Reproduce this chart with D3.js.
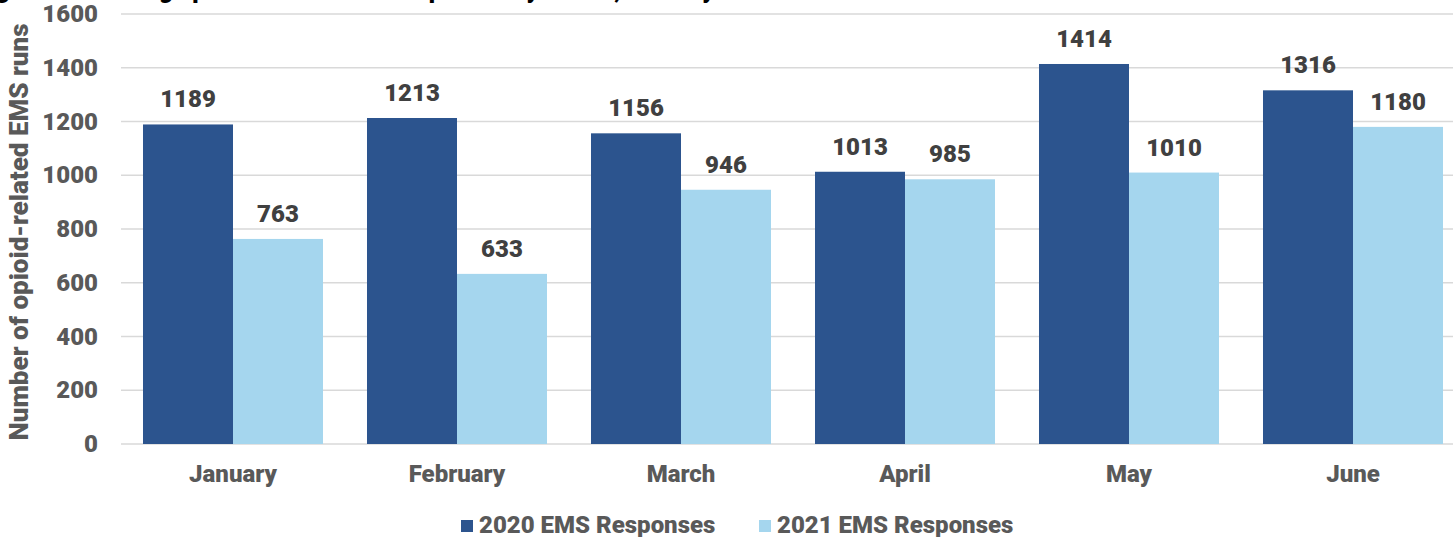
<!DOCTYPE html>
<html><head><meta charset="utf-8">
<script src="https://cdn.jsdelivr.net/npm/d3@7"></script>
<style>body{margin:0;background:#fff;overflow:hidden}svg{display:block}</style>
</head><body>
<svg id="c" width="1453" height="537"></svg>
<script>
const months = ["January","February","March","April","May","June"];
const seriesNames = ["2020 EMS Responses","2021 EMS Responses"];
const values2020 = [1189,1213,1156,1013,1414,1316];
const values2021 = [763,633,946,985,1010,1180];
const yTicks = [0,200,400,600,800,1000,1200,1400,1600];
const colors = ["#2c548e","#a5d6ee"];
const titleText = "Figure 3. Tracking opioid-related EMS responses by month, January–June 2020 and 2021";

const svg = d3.select("#c");
const font = "Roboto, 'Liberation Sans', sans-serif";
const W = 900;
const x = d3.scaleBand().domain(months).range([121,1465]).paddingInner(0.1964).paddingOuter(0.0982);
const xs = d3.scaleBand().domain(seriesNames).range([0,x.bandwidth()]);
const y = d3.scaleLinear().domain([0,1600]).range([444,14]);

// title (cut off at top)
svg.append("text").attr("x",-24).attr("y",-2).attr("font-family",font).attr("font-weight",W)
  .attr("font-size",24).attr("fill","#000").text(titleText);

// grid
svg.append("g").selectAll("line").data(yTicks).join("line")
  .attr("x1",121).attr("x2",1465).attr("y1",d=>y(d)).attr("y2",d=>y(d))
  .attr("stroke","#d9d9d9").attr("stroke-width",1.5);

// y axis labels
const yAxis = d3.axisLeft(y).tickValues(yTicks).tickFormat(d3.format("d")).tickSize(0).tickPadding(0);
const ga = svg.append("g").attr("transform","translate(98,0)").call(yAxis);
ga.select(".domain").remove();
ga.selectAll("text").attr("font-family",font).attr("font-weight",W).attr("font-size",24).attr("fill","#595959");

// x axis labels
const xAxis = d3.axisBottom(x).tickSize(0).tickPadding(0);
const gx = svg.append("g").attr("transform","translate(0,474)").call(xAxis);
gx.select(".domain").remove();
gx.selectAll("text").attr("y",0).attr("dy","0.35em").attr("font-family",font).attr("font-weight",W).attr("font-size",24).attr("fill","#595959");

// y title
svg.append("text").attr("transform","translate(28,232) rotate(-90)").attr("text-anchor","middle")
  .attr("font-family",font).attr("font-weight",W).attr("font-size",26).attr("fill","#595959")
  .text("Number of opioid-related EMS runs");

// bars
const data = months.map((m,i)=>({m, vals:[values2020[i],values2021[i]]}));
const grp = svg.append("g").selectAll("g").data(data).join("g").attr("transform",d=>`translate(${x(d.m)},0)`);
grp.selectAll("rect").data(d=>d.vals.map((v,j)=>({s:seriesNames[j],v,j}))).join("rect")
  .attr("x",d=>xs(d.s)).attr("width",xs.bandwidth()).attr("y",d=>y(d.v)).attr("height",d=>y(0)-y(d.v))
  .attr("fill",d=>colors[d.j]);
grp.selectAll("text").data(d=>d.vals.map((v,j)=>({s:seriesNames[j],v,j}))).join("text")
  .attr("x",d=>xs(d.s)+xs.bandwidth()/2).attr("y",d=>y(d.v)-17).attr("text-anchor","middle")
  .attr("font-family",font).attr("font-weight",W).attr("font-size",24).attr("fill","#404040").text(d=>d.v);

// legend
const leg = svg.append("g");
const legX = [461,759];
seriesNames.forEach((s,i)=>{
  leg.append("rect").attr("x",legX[i]).attr("y",520).attr("width",12).attr("height",12).attr("fill",colors[i]);
  leg.append("text").attr("x",legX[i]+18).attr("y",533).attr("font-family",font).attr("font-weight",W)
    .attr("font-size",24).attr("fill","#595959").text(s);
});
</script>
</body></html>
